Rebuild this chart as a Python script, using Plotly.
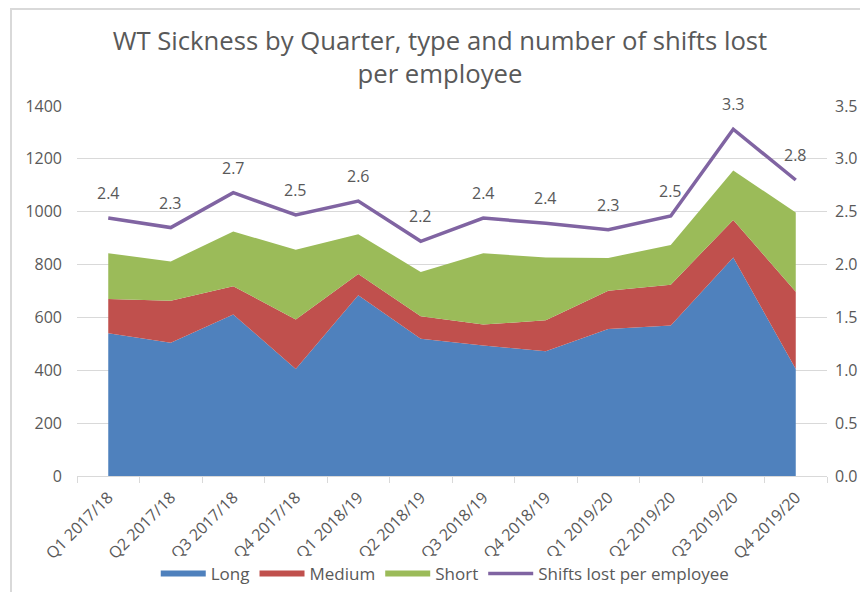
import plotly.graph_objects as go

quarters = ["Q1 2017/18", "Q2 2017/18", "Q3 2017/18", "Q4 2017/18",
            "Q1 2018/19", "Q2 2018/19", "Q3 2018/19", "Q4 2018/19",
            "Q1 2019/20", "Q2 2019/20", "Q3 2019/20", "Q4 2019/20"]
long_vals = [540, 504, 611, 405, 684, 519, 494, 472, 556, 569, 827, 405]
medium_vals = [130, 159, 107, 187, 80, 85, 79, 117, 145, 155, 142, 292]
short_vals = [173, 149, 207, 264, 151, 168, 270, 238, 124, 150, 187, 300]
shifts_per_employee = [2.44, 2.35, 2.68, 2.47, 2.60, 2.22, 2.44, 2.39, 2.33, 2.46, 3.28, 2.80]
shift_labels = ["2.4", "2.3", "2.7", "2.5", "2.6", "2.2", "2.4", "2.4", "2.3", "2.5", "3.3", "2.8"]

FONT = "Open Sans"
GREY = "#595959"

fig = go.Figure()
for name, vals, col in [("Long", long_vals, "#4f81bd"),
                        ("Medium", medium_vals, "#c0504d"),
                        ("Short", short_vals, "#9bbb59")]:
    fig.add_trace(go.Scatter(x=quarters, y=vals, name=name, stackgroup="one",
                             mode="none", fillcolor=col, line=dict(width=0)))

fig.add_trace(go.Scatter(x=quarters, y=shifts_per_employee, name="Shifts lost per employee",
                         mode="lines", line=dict(color="#8064a2", width=3.5), yaxis="y2"))

for q, v, t in zip(quarters, shifts_per_employee, shift_labels):
    fig.add_annotation(x=q, y=v, yref="y2", text=t, showarrow=False, yshift=25,
                       font=dict(family=FONT, size=16, color=GREY))

fig.update_layout(
    width=852, height=584,
    margin=dict(l=69, r=33, t=98, b=116, autoexpand=False),
    paper_bgcolor="white", plot_bgcolor="white",
    title=dict(text="WT Sickness by Quarter, type and number of shifts lost<br>per employee",
               x=0.507, xanchor="center", y=0.928, yanchor="middle",
               font=dict(family=FONT, size=25.7, color=GREY)),
    xaxis=dict(type="category", range=[-0.5, 11.5], tickangle=-45, automargin=False,
               showline=True, linecolor="#d9d9d9", linewidth=1,
               ticks="outside", tickson="boundaries", ticklen=6, tickcolor="#d9d9d9",
               ticklabelstandoff=5,
               showgrid=False, tickfont=dict(family=FONT, size=16, color=GREY)),
    yaxis=dict(range=[0, 1400], dtick=200, showgrid=True, gridcolor="#d9d9d9",
               zeroline=False, showline=False, ticks="", automargin=False,
               ticklabelstandoff=14,
               tickfont=dict(family=FONT, size=16, color=GREY)),
    yaxis2=dict(range=[0, 3.5], dtick=0.5, tickformat=".1f", overlaying="y", side="right",
                showgrid=False, zeroline=False, showline=False, automargin=False,
                ticklabelstandoff=7,
                tickfont=dict(family=FONT, size=16, color=GREY)),
    legend=dict(orientation="h", x=0.491, xanchor="center", y=-0.265, yanchor="middle",
                font=dict(family=FONT, size=17, color=GREY), traceorder="normal",
                itemwidth=45),
    showlegend=True,
)

fig.add_shape(type="rect", xref="paper", yref="paper",
              x0=-0.088, x1=1.1, y0=-0.4, y1=1.262,
              line=dict(color="#d9d9d9", width=2), fillcolor="rgba(0,0,0,0)", layer="below")

fig.write_html("out.html")
